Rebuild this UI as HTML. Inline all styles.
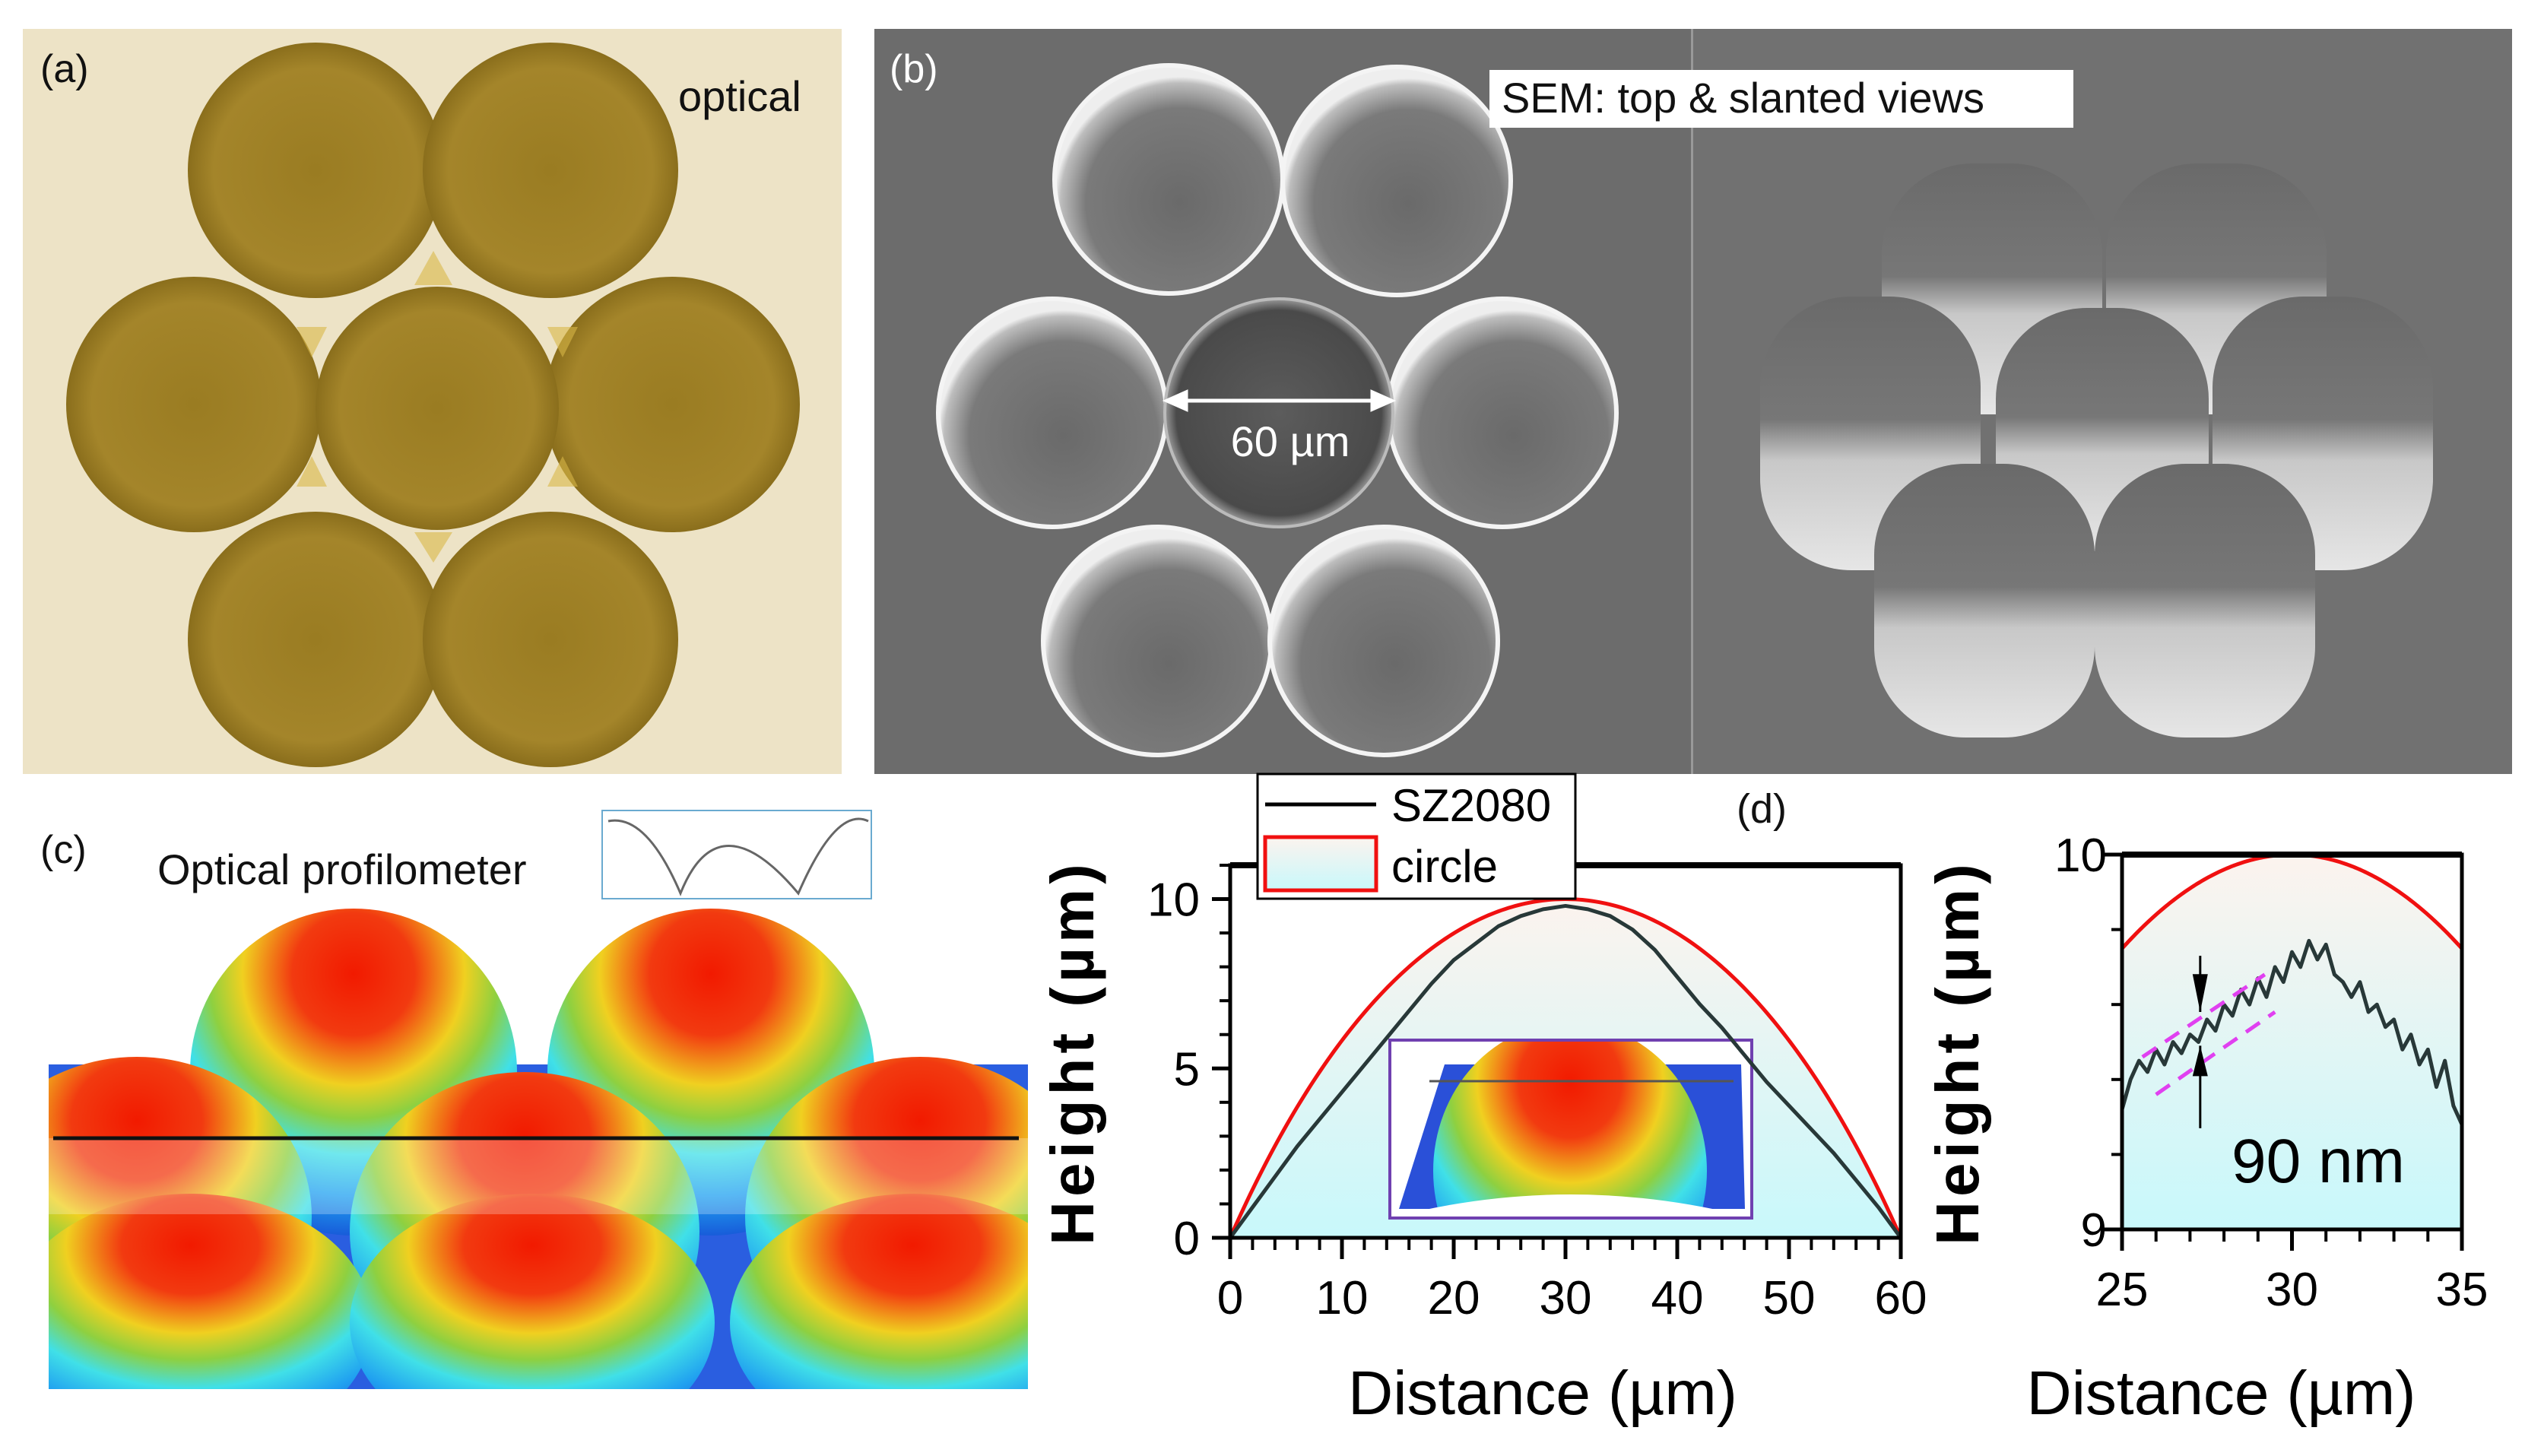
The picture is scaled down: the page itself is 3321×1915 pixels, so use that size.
<!DOCTYPE html>
<html><head><meta charset="utf-8"><style>
html,body{margin:0;padding:0;background:#fff;width:3321px;height:1915px;overflow:hidden}
svg{display:block}
text{font-family:"Liberation Sans",sans-serif}
</style></head><body>
<svg id="fig" width="3321" height="1915" viewBox="0 0 3321 1915" xmlns="http://www.w3.org/2000/svg">
<defs>
<radialGradient id="gold" cx="50%" cy="50%" r="50%"><stop offset="0" stop-color="#9a7c22"/><stop offset="0.8" stop-color="#a4852a"/><stop offset="1" stop-color="#8a6e1c"/></radialGradient>
<radialGradient id="semc" cx="55%" cy="60%" r="55%"><stop offset="0" stop-color="#6a6a6a"/><stop offset="0.75" stop-color="#7a7a7a"/><stop offset="0.95" stop-color="#bdbdbd"/><stop offset="1" stop-color="#eeeeee"/></radialGradient>
<radialGradient id="semcen" cx="50%" cy="50%" r="50%"><stop offset="0" stop-color="#5c5c5c"/><stop offset="0.9" stop-color="#4a4a4a"/><stop offset="1" stop-color="#9a9a9a"/></radialGradient>
<linearGradient id="cyl" x1="0" y1="0" x2="0" y2="1"><stop offset="0" stop-color="#6a6a6a"/><stop offset="0.45" stop-color="#777"/><stop offset="0.6" stop-color="#c8c8c8"/><stop offset="1" stop-color="#e6e6e6"/></linearGradient>
<radialGradient id="dome" cx="50%" cy="20%" r="85%"><stop offset="0" stop-color="#f21a00"/><stop offset="0.22" stop-color="#f23a10"/><stop offset="0.4" stop-color="#f0d020"/><stop offset="0.52" stop-color="#8ed040"/><stop offset="0.65" stop-color="#40e0e8"/><stop offset="0.8" stop-color="#20a0f0"/><stop offset="1" stop-color="#1440d0"/></radialGradient>
<linearGradient id="fillg" x1="0" y1="0" x2="0" y2="1"><stop offset="0" stop-color="#fcf3ee"/><stop offset="1" stop-color="#c8f8fb"/></linearGradient>
<clipPath id="c3d"><rect x="64" y="1192" width="1288" height="635"/></clipPath>
<clipPath id="cd1"><rect x="1618" y="1138" width="882" height="490"/></clipPath>
<clipPath id="cd2"><rect x="2791" y="1124" width="447" height="493"/></clipPath>
<clipPath id="cins"><rect x="1828" y="1368" width="476" height="234"/></clipPath>
</defs>

<g>
<rect x="30" y="38" width="1077" height="980" fill="#ede3c6"/>
<g fill="url(#gold)">
<circle cx="415" cy="224" r="168"/><circle cx="724" cy="224" r="168"/>
<circle cx="255" cy="532" r="168"/><circle cx="884" cy="532" r="168"/>
<circle cx="415" cy="841" r="168"/><circle cx="724" cy="841" r="168"/>
<circle cx="575" cy="537" r="160"/>
</g>
<g fill="#d8b848" opacity="0.6">
<polygon points="570,330 545,375 595,375"/><polygon points="570,740 545,700 595,700"/>
<polygon points="390,430 430,430 410,470"/><polygon points="720,430 760,430 740,470"/>
<polygon points="390,640 430,640 410,600"/><polygon points="720,640 760,640 740,600"/>
</g>
<text x="53" y="108" font-size="52" fill="#111">(a)</text>
<text x="892" y="146" font-size="56" fill="#111">optical</text>
</g>

<g>
<rect x="1150" y="38" width="1075" height="980" fill="#6c6c6c"/>
<rect x="2227" y="38" width="1077" height="980" fill="#717171"/>
<rect x="2224" y="38" width="3" height="980" fill="#999"/>
<g stroke="#f4f4f4" stroke-width="6" fill="url(#semc)">
<circle cx="1537" cy="236" r="150"/><circle cx="1837" cy="238" r="150"/>
<circle cx="1384" cy="543" r="150"/><circle cx="1976" cy="543" r="150"/>
<circle cx="1522" cy="843" r="150"/><circle cx="1820" cy="843" r="150"/>
</g>
<circle cx="1682" cy="543" r="150" fill="url(#semcen)" stroke="#bbb" stroke-width="4"/>
<g stroke="#fff" stroke-width="5" fill="#fff">
<line x1="1545" y1="527" x2="1820" y2="527"/>
<polygon points="1535,527 1560,516 1560,538"/><polygon points="1830,527 1805,516 1805,538"/>
</g>
<text x="1697" y="600" font-size="56" fill="#fff" text-anchor="middle">60 µm</text>
<g>
<rect x="2475" y="215" width="290" height="330" rx="120" fill="url(#cyl)"/>
<rect x="2770" y="215" width="290" height="330" rx="120" fill="url(#cyl)"/>
<rect x="2315" y="390" width="290" height="360" rx="120" fill="url(#cyl)"/>
<rect x="2910" y="390" width="290" height="360" rx="120" fill="url(#cyl)"/>
<rect x="2625" y="405" width="280" height="320" rx="120" fill="url(#cyl)"/>
<rect x="2465" y="610" width="290" height="360" rx="120" fill="url(#cyl)"/>
<rect x="2755" y="610" width="290" height="360" rx="120" fill="url(#cyl)"/>
</g>
<rect x="1959" y="92" width="768" height="76" fill="#fff"/>
<text x="1975" y="148" font-size="56" fill="#111">SEM: top &amp; slanted views</text>
<text x="1170" y="108" font-size="52" fill="#fff">(b)</text>
</g>

<g>
<text x="53" y="1135" font-size="52" fill="#111">(c)</text>
<text x="207" y="1163" font-size="56" fill="#111">Optical profilometer</text>
<g>
<rect x="792" y="1066" width="354" height="116" fill="#fff" stroke="#6aaad0" stroke-width="2"/>
<path d="M800,1080 Q850,1070 895,1175 Q945,1050 1050,1175 Q1100,1060 1142,1080" fill="none" stroke="#666" stroke-width="3"/>
</g>
<g clip-path="url(#c3d)">
<rect x="64" y="1192" width="1288" height="635" fill="#fff"/>
<rect x="64" y="1400" width="1288" height="427" fill="#2a5ee0"/>
<ellipse cx="465" cy="1410" rx="215" ry="215" fill="url(#dome)"/>
<ellipse cx="935" cy="1410" rx="215" ry="215" fill="url(#dome)"/>
<ellipse cx="180" cy="1600" rx="230" ry="210" fill="url(#dome)"/>
<ellipse cx="690" cy="1620" rx="230" ry="210" fill="url(#dome)"/>
<ellipse cx="1210" cy="1600" rx="230" ry="210" fill="url(#dome)"/>
<ellipse cx="250" cy="1740" rx="240" ry="170" fill="url(#dome)"/>
<ellipse cx="700" cy="1740" rx="240" ry="170" fill="url(#dome)"/>
<ellipse cx="1200" cy="1740" rx="240" ry="170" fill="url(#dome)"/>
<rect x="64" y="1497" width="1288" height="100" fill="#fff" opacity="0.25"/>
<line x1="70" y1="1497" x2="1340" y2="1497" stroke="#111" stroke-width="5"/>
</g>
</g>

<text x="2317" y="1082" font-size="54" fill="#111" text-anchor="middle">(d)</text>

<g id="d1"></g>
<g id="d2"></g>
</svg>
<script>
const profX = [0,2,4,6,8,10,12,14,16,18,20,22,24,26,28,30,32,34,36,38,40,42,44,46,48,50,52,54,56,58,60];
const profY = [0,0.9,1.8,2.7,3.5,4.3,5.1,5.9,6.7,7.5,8.2,8.7,9.2,9.5,9.7,9.8,9.7,9.5,9.1,8.5,7.7,6.9,6.2,5.4,4.6,3.9,3.2,2.5,1.7,0.9,0];
const zoomX = [25,25.25,25.5,25.75,26,26.25,26.5,26.75,27,27.25,27.5,27.75,28,28.25,28.5,28.75,29,29.25,29.5,29.75,30,30.25,30.5,30.75,31,31.25,31.5,31.75,32,32.25,32.5,32.75,33,33.25,33.5,33.75,34,34.25,34.5,34.75,35];
const zoomY = [9.32,9.4,9.45,9.42,9.48,9.44,9.5,9.47,9.52,9.5,9.56,9.53,9.6,9.57,9.64,9.6,9.67,9.62,9.7,9.66,9.74,9.7,9.77,9.72,9.76,9.68,9.66,9.62,9.66,9.58,9.6,9.54,9.56,9.48,9.52,9.44,9.48,9.38,9.45,9.33,9.28];
const capHeight = [10];
const baseWidth = [60];
const d1XTicks = [0,10,20,30,40,50,60];
const d1YTicks = [0,5,10];
const d2XTicks = [25,30,35];
const d2YTicks = [9,10];

const NS = "http://www.w3.org/2000/svg";
function mk(parent, tag, attrs, txt){const e=document.createElementNS(NS,tag);for(const k in attrs)e.setAttribute(k,attrs[k]);if(txt!==undefined)e.textContent=txt;parent.appendChild(e);return e;}
const H = capHeight[0], W = baseWidth[0];
const R = ((W/2)*(W/2)+H*H)/(2*H);
function circY(x){const d=x-W/2;const v=R*R-d*d;return v>0?Math.sqrt(v)-(R-H):0;}

function chart(g, box, xr, yr, xs, ys, ser, opts){
  const X=v=>box.x+(v-xr[0])/(xr[1]-xr[0])*box.w;
  const Y=v=>box.y+box.h-(v-yr[0])/(yr[1]-yr[0])*box.h;
  let pts=[];
  for(let i=0;i<=200;i++){const x=xr[0]+(xr[1]-xr[0])*i/200;pts.push([X(x),Y(circY(x))]);}
  const cg=mk(g,'g',{'clip-path':opts.clip});
  const area=mk(cg,'path',{d:'M'+X(xr[0])+','+Y(yr[0])+' L'+pts.map(p=>p.join(',')).join(' L')+' L'+X(xr[1])+','+Y(yr[0])+'Z',fill:'url(#fillg)'});
  
  
  if(opts.inset) opts.inset(cg);
  const cl=mk(cg,'path',{d:'M'+pts.map(p=>p.join(',')).join(' L'),fill:'none',stroke:'#f01010','stroke-width':5});
  
  
  const sl=mk(cg,'path',{d:'M'+ser.x.map((x,i)=>X(x)+','+Y(ser.y[i])).join(' L'),fill:'none',stroke:'#283838','stroke-width':5,'stroke-linejoin':'round'});
  
  
  const fr=mk(g,'rect',{x:box.x,y:box.y,width:box.w,height:box.h,fill:'none',stroke:'#000','stroke-width':5});
  
  
  mk(g,'line',{x1:box.x,y1:box.y,x2:box.x+box.w,y2:box.y,stroke:'#000','stroke-width':8});
  xs.forEach(v=>{
    mk(g,'line',{x1:X(v),y1:box.y+box.h,x2:X(v),y2:box.y+box.h+28,stroke:'#000','stroke-width':5});
    const t=mk(g,'text',{x:X(v),y:box.y+box.h+opts.xlabOff,'font-size':62,'text-anchor':'middle',fill:'#000'},String(v));
    
    
  });
  for(let v=xr[0];v<=xr[1]+1e-9;v+=opts.minorX){mk(g,'line',{x1:X(v),y1:box.y+box.h,x2:X(v),y2:box.y+box.h+16,stroke:'#000','stroke-width':4});}
  ys.forEach(v=>{
    mk(g,'line',{x1:box.x-24,y1:Y(v),x2:box.x,y2:Y(v),stroke:'#000','stroke-width':5});
    const t=mk(g,'text',{x:box.x-opts.ylabOff,y:Y(v)+22,'font-size':62,'text-anchor':'end',fill:'#000'},String(v));
    
    
  });
  for(let v=yr[0];v<=yr[1]+1e-9;v+=opts.minorY){mk(g,'line',{x1:box.x-14,y1:Y(v),x2:box.x,y2:Y(v),stroke:'#000','stroke-width':4});}
  const xt=mk(g,'text',{x:box.x+box.w/2+opts.xtShift,y:1860,'font-size':82,'text-anchor':'middle',fill:'#000'},'Distance (µm)');
  
  
  const yt=mk(g,'text',{x:opts.ytx,y:1384,'font-size':80,'font-weight':'bold','text-anchor':'middle','letter-spacing':6,fill:'#000',transform:'rotate(-90 '+opts.ytx+' 1384)'},'Height (µm)');
  
  
  return {X,Y};
}

const d1=document.getElementById('d1');
const s1=chart(d1,{x:1618,y:1138,w:882,h:490},[0,60],[0,11],d1XTicks,d1YTicks,{x:profX,y:profY},{
  clip:'url(#cd1)',xlabOff:100,ylabOff:40,minorX:2,minorY:1,xtShift:-30,ytx:1438,
  inset:(g)=>{
    const ig=mk(g,'g',{});
    
    
    mk(ig,'rect',{x:1828,y:1368,width:476,height:234,fill:'#fff'});
    const ic=mk(ig,'g',{'clip-path':'url(#cins)'});
    mk(ic,'polygon',{points:'1840,1590 1900,1400 2290,1400 2295,1590',fill:'#2a50d8'});
    mk(ic,'ellipse',{cx:2065,cy:1540,rx:180,ry:195,fill:'url(#dome)'});
    mk(ic,'path',{d:'M1828,1602 Q2065,1540 2304,1602 Z',fill:'#fff'});
    mk(ic,'line',{x1:1880,y1:1422,x2:2280,y2:1422,stroke:'#555','stroke-width':3});
    mk(ig,'rect',{x:1828,y:1368,width:476,height:234,fill:'none',stroke:'#7040b0','stroke-width':4});
  }
});
(function(){
  const lg=mk(d1,'g',{});
  
  
  mk(lg,'rect',{x:1654,y:1018,width:418,height:164,fill:'#fff',stroke:'#000','stroke-width':3});
  const l1=mk(lg,'line',{x1:1664,y1:1058,x2:1810,y2:1058,stroke:'#000','stroke-width':5});
  
  
  mk(lg,'text',{x:1830,y:1080,'font-size':60,fill:'#000'},'SZ2080');
  const r1=mk(lg,'rect',{x:1664,y:1101,width:146,height:70,fill:'url(#fillg)',stroke:'#f01010','stroke-width':5});
  
  
  mk(lg,'text',{x:1830,y:1160,'font-size':60,fill:'#000'},'circle');
})();

const d2=document.getElementById('d2');
const s2=chart(d2,{x:2791,y:1124,w:447,h:493},[25,35],[9,10],d2XTicks,d2YTicks,{x:zoomX,y:zoomY},{
  clip:'url(#cd2)',xlabOff:100,ylabOff:20,minorX:1,minorY:0.2,xtShift:-93,ytx:2602
});
(function(){
  const X=s2.X,Y=s2.Y;
  const a=mk(d2,'g',{});
  
  
  mk(a,'line',{x1:X(25.6),y1:Y(9.46),x2:X(29.2),y2:Y(9.68),stroke:'#e040f0','stroke-width':5,'stroke-dasharray':'22,14'});
  mk(a,'line',{x1:X(26.0),y1:Y(9.36),x2:X(29.5),y2:Y(9.58),stroke:'#e040f0','stroke-width':5,'stroke-dasharray':'22,14'});
  const ax=X(27.3);
  mk(a,'line',{x1:ax,y1:Y(9.73),x2:ax,y2:Y(9.58),stroke:'#000','stroke-width':3});
  mk(a,'polygon',{points:(ax-10)+','+(Y(9.6)-40)+' '+(ax+10)+','+(Y(9.6)-40)+' '+ax+','+Y(9.58),fill:'#000'});
  mk(a,'line',{x1:ax,y1:Y(9.49),x2:ax,y2:Y(9.27),stroke:'#000','stroke-width':3});
  mk(a,'polygon',{points:(ax-10)+','+(Y(9.49)+40)+' '+(ax+10)+','+(Y(9.49)+40)+' '+ax+','+Y(9.49),fill:'#000'});
  const t=mk(a,'text',{x:3049,y:1555,'font-size':82,'text-anchor':'middle',fill:'#000'},'90 nm');
  
  
})();
</script>
</body></html>
